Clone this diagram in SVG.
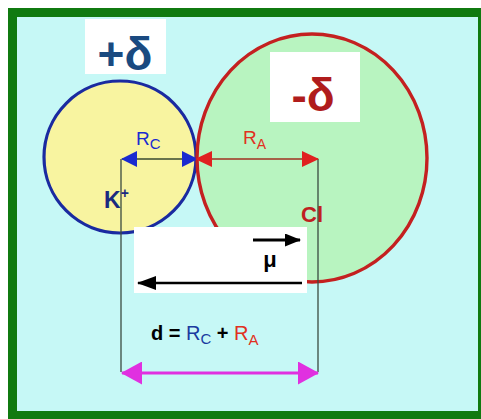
<svg xmlns="http://www.w3.org/2000/svg" width="481" height="419" viewBox="0 0 481 419">
<defs>
<style>
.lbl{font-family:"Liberation Sans",Arial,sans-serif;}
.vline{stroke:#3a4a40;stroke-width:1.3;fill:none;}
</style>
<marker id="bh" viewBox="0 0 16 16" refX="15" refY="8" markerWidth="16" markerHeight="16" markerUnits="userSpaceOnUse" orient="auto-start-reverse"><path d="M0,0 L16,8 L0,16 Z" fill="#1a2ad0"/></marker>
<marker id="rh" viewBox="0 0 17 16" refX="16" refY="8" markerWidth="17" markerHeight="16" markerUnits="userSpaceOnUse" orient="auto-start-reverse"><path d="M0,0 L17,8 L0,16 Z" fill="#e02020"/></marker>
<marker id="kh" viewBox="0 0 19 14" refX="18" refY="7" markerWidth="19" markerHeight="14" markerUnits="userSpaceOnUse" orient="auto"><path d="M0,0 L19,7 L0,14 Z" fill="#000"/></marker>
<marker id="kh2" viewBox="0 0 16 13" refX="15" refY="6.5" markerWidth="16" markerHeight="13" markerUnits="userSpaceOnUse" orient="auto"><path d="M0,0 L16,6.5 L0,13 Z" fill="#000"/></marker>
<marker id="mh" viewBox="0 0 21 23" refX="20" refY="11.5" markerWidth="21" markerHeight="23" markerUnits="userSpaceOnUse" orient="auto-start-reverse"><path d="M0,0 L21,11.5 L0,23 Z" fill="#e030e0"/></marker>
</defs>
<rect x="0" y="0" width="481" height="419" fill="#ffffff"/>
<rect x="8" y="8" width="473" height="411" fill="#107a10"/>
<rect x="17" y="17" width="461" height="394" fill="#c6f8f6"/>
<g id="cation">
<circle cx="120" cy="157" r="76" fill="#f8f4a0" stroke="#1a2aa0" stroke-width="3.2"/>
</g>
<g id="anion">
<ellipse cx="312" cy="158" rx="115" ry="124" fill="#b8f4c0" stroke="#c42020" stroke-width="3.4"/>
</g>
<g id="plus-delta">
<rect x="85" y="19" width="81" height="55" fill="#ffffff"/>
<text class="lbl" x="125" y="70" font-size="46" font-weight="bold" fill="#1a4a80" text-anchor="middle">+δ</text>
</g>
<g id="minus-delta">
<rect x="270" y="52" width="90" height="70" fill="#ffffff"/>
<text class="lbl" x="313" y="111" font-size="46" font-weight="bold" fill="#b01c1c" text-anchor="middle">-δ</text>
</g>
<g id="dipole-box">
<rect x="134" y="227" width="173" height="66" fill="#ffffff"/>
</g>
<g id="connectors">
<line class="vline" x1="121" y1="159" x2="121" y2="372"/>
<line class="vline" x1="318" y1="159" x2="318" y2="372"/>
<line x1="122" y1="159" x2="197" y2="159" stroke="#3a4a30" stroke-width="1.5" marker-start="url(#bh)" marker-end="url(#bh)"/>
<line x1="196" y1="159" x2="318" y2="159" stroke="#a03020" stroke-width="1.5" marker-start="url(#rh)" marker-end="url(#rh)"/>
<line x1="253" y1="240" x2="300" y2="240" stroke="#000" stroke-width="3.2" marker-end="url(#kh2)"/>
<line x1="302" y1="283" x2="138" y2="283" stroke="#000" stroke-width="2.6" marker-end="url(#kh)"/>
<line x1="122" y1="373" x2="318" y2="373" stroke="#e030e0" stroke-width="3.2" marker-start="url(#mh)" marker-end="url(#mh)"/>
</g>
<g id="labels">
<text class="lbl" x="136" y="145" font-size="19" fill="#1a2ad0">R<tspan font-size="15" dy="4">C</tspan></text>
<text class="lbl" x="243" y="144" font-size="19" fill="#e03020">R<tspan font-size="14" dy="5">A</tspan></text>
<text class="lbl" x="104" y="208" font-size="23" font-weight="bold" fill="#1a2a80">K<tspan font-size="14" dy="-10">+</tspan></text>
<text class="lbl" x="301" y="222" font-size="22" font-weight="bold" fill="#c02020">Cl</text>
<text class="lbl" x="270" y="267" font-size="22" font-weight="bold" fill="#000" text-anchor="middle">μ</text>
<text class="lbl" x="151" y="340" font-size="20" font-weight="bold" fill="#000">d = <tspan fill="#1a3aa0" font-weight="normal">R</tspan><tspan fill="#1a3aa0" font-weight="normal" font-size="15" dy="4">C</tspan><tspan dy="-4"> + </tspan><tspan fill="#e03020" font-weight="normal">R</tspan><tspan fill="#e03020" font-weight="normal" font-size="15" dy="5">A</tspan></text>
</g>
</svg>
